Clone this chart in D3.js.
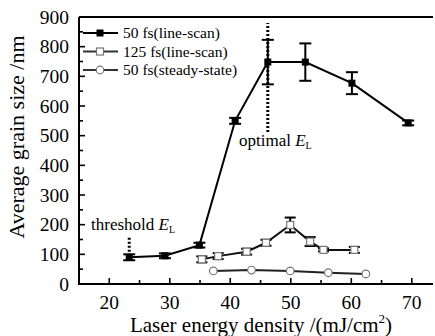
<!DOCTYPE html>
<html><head><meta charset="utf-8">
<script src="https://cdn.jsdelivr.net/npm/d3@7"></script>
<style>body{margin:0;background:#fff}svg{display:block}text{font-family:"Liberation Serif","Times New Roman",serif}</style>
</head><body>
<script>
// ---- data ----
const fs50X   = [23.3, 29.2, 34.9, 40.8, 46.2, 52.4, 60.1, 69.4];
const fs50Y   = [90, 95, 131, 550, 748, 748, 677, 543];
const fs50Err = [10, 8, 8, 10, 75, 63, 37, 8];
const fs125X   = [35.3, 38.0, 42.7, 45.9, 49.9, 53.2, 55.4, 60.5];
const fs125Y   = [83, 94, 109, 139, 199, 143, 115, 115];
const fs125Err = [10, 10, 10, 10, 25, 15, 5, 10];
const ssX = [37.2, 43.5, 49.9, 56.2, 62.4];
const ssY = [44, 47, 44, 38, 34];
const xTicks = [20, 30, 40, 50, 60, 70];
const yTicks = [0, 100, 200, 300, 400, 500, 600, 700, 800, 900];
const legendLabels = ["50 fs(line-scan)", "125 fs(line-scan)", "50 fs(steady-state)"];
const thresholdE = {x: 23.3, y0: 95, y1: 160};
const optimalE = {x: 46.2, y0: 512, y1: 880};

const W = 435, H = 336;
const svg = d3.select("body").append("svg").attr("width", W).attr("height", H);

const x = d3.scaleLinear().domain([15, 73.5]).range([79, 433]);
const y = d3.scaleLinear().domain([0, 900]).range([284, 17]);

// x axis ticks (inward) and labels
const gx = svg.append("g").attr("transform", `translate(0,${y(0)})`);
gx.selectAll("line.t").data(d3.range(20, 75, 5)).join("line")
  .attr("x1", d => x(d)).attr("x2", d => x(d)).attr("y1", 0)
  .attr("y2", d => d % 10 === 0 ? -6 : -4).attr("stroke", "#000").attr("stroke-width", 1.6);
gx.selectAll("text").data(xTicks).join("text")
  .attr("x", d => x(d)).attr("y", 24.5).attr("text-anchor", "middle")
  .attr("font-size", 19.5).text(d => d);

const gy = svg.append("g");
gy.selectAll("line.t").data(d3.range(50, 900, 50)).join("line")
  .attr("y1", d => y(d)).attr("y2", d => y(d)).attr("x1", x(15))
  .attr("x2", d => d % 100 === 0 ? x(15) + 6 : x(15) + 4).attr("stroke", "#000").attr("stroke-width", 1.6);
gy.selectAll("text").data(yTicks).join("text")
  .attr("x", 69).attr("y", d => y(d) + 6.5).attr("text-anchor", "end")
  .attr("font-size", 19.5).text(d => d);

// frame lines
svg.append("line").attr("x1", x(15)).attr("x2", x(15)).attr("y1", y(0) + 1).attr("y2", y(900))
  .attr("stroke", "#000").attr("stroke-width", 2);
svg.append("line").attr("x1", x(15)).attr("x2", x(73.5)).attr("y1", y(0)).attr("y2", y(0))
  .attr("stroke", "#000").attr("stroke-width", 2);
svg.append("line").attr("x1", x(15)).attr("x2", x(73.5)).attr("y1", y(900)).attr("y2", y(900))
  .attr("stroke", "#000").attr("stroke-width", 2);

// axis titles
const xt = svg.append("text").attr("x", 261).attr("y", 332).attr("text-anchor", "middle").attr("font-size", 21);
xt.append("tspan").text("Laser energy density /(mJ/cm");
xt.append("tspan").attr("font-size", 13).attr("dy", -9).text("2");
xt.append("tspan").attr("dy", 9).text(")");
svg.append("text").attr("transform", "translate(24,137) rotate(-90)").attr("text-anchor", "middle")
  .attr("font-size", 22).text("Average grain size /nm");

// dotted marker lines
[thresholdE, optimalE].forEach(m => {
  svg.append("line").attr("x1", x(m.x)).attr("x2", x(m.x)).attr("y1", y(m.y0)).attr("y2", y(m.y1))
    .attr("stroke", "#000").attr("stroke-width", 3).attr("stroke-dasharray", "2,2");
});

function annot(tx, ty, word) {
  const t = svg.append("text").attr("x", tx).attr("y", ty).attr("font-size", 17);
  t.append("tspan").text(word + " ");
  t.append("tspan").attr("font-style", "italic").text("E");
  t.append("tspan").attr("font-size", 10).attr("dy", 3).text("L");
}
annot(91, 230, "threshold");
annot(239, 146, "optimal");

const line = d3.line().x(d => x(d[0])).y(d => y(d[1]));

function series(xs, ys, errs, lineColor, markerFn, capW) {
  const pts = xs.map((v, i) => [v, ys[i], errs ? errs[i] : 0]);
  svg.append("path").datum(pts).attr("d", line).attr("fill", "none")
    .attr("stroke", lineColor).attr("stroke-width", 2);
  if (errs) {
    const g = svg.append("g").attr("stroke", "#000").attr("stroke-width", 2);
    pts.forEach(p => {
      g.append("line").attr("x1", x(p[0])).attr("x2", x(p[0])).attr("y1", y(p[1] - p[2])).attr("y2", y(p[1] + p[2]));
      [p[1] - p[2], p[1] + p[2]].forEach(v => g.append("line")
        .attr("x1", x(p[0]) - capW / 2).attr("x2", x(p[0]) + capW / 2).attr("y1", y(v)).attr("y2", y(v)));
    });
  }
  pts.forEach(p => markerFn(svg, x(p[0]), y(p[1])));
}
const filledSq = (g, cx, cy) => g.append("rect").attr("x", cx - 3.5).attr("y", cy - 3.5).attr("width", 7).attr("height", 7).attr("fill", "#000");
const openSq = (g, cx, cy) => g.append("rect").attr("x", cx - 3.5).attr("y", cy - 3.5).attr("width", 7).attr("height", 7).attr("fill", "#fff").attr("stroke", "#777").attr("stroke-width", 1.2);
const openCirc = (g, cx, cy) => g.append("circle").attr("cx", cx).attr("cy", cy).attr("r", 3.8).attr("fill", "#fff").attr("stroke", "#777").attr("stroke-width", 1.2);

series(ssX, ssY, null, "#222", openCirc, 0);
series(fs125X, fs125Y, fs125Err, "#111", openSq, 11);
series(fs50X, fs50Y, fs50Err, "#000", filledSq, 12);

// legend
const markers = [filledSq, openSq, openCirc];
const lineCols = ["#000", "#333", "#333"];
legendLabels.forEach((lab, i) => {
  const ly = 33 + i * 18.5;
  svg.append("line").attr("x1", 83).attr("x2", 118).attr("y1", ly).attr("y2", ly)
    .attr("stroke", lineCols[i]).attr("stroke-width", 2);
  markers[i](svg, 100, ly);
  svg.append("text").attr("x", 123).attr("y", ly + 5).attr("font-size", 15.5).text(lab);
});
</script>
</body></html>
